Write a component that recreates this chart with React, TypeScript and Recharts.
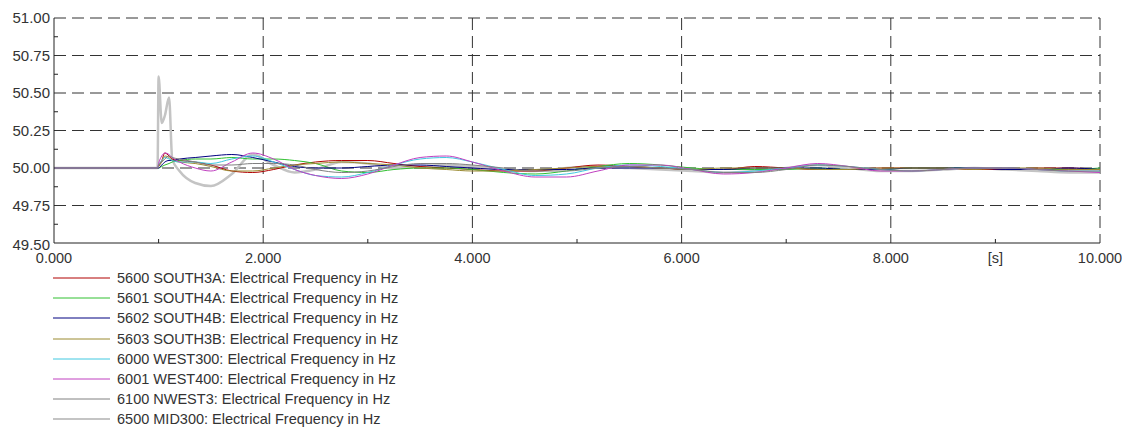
import React from "react";
import { LineChart, Line, XAxis, YAxis, CartesianGrid } from "recharts";

// Simulation time in seconds
const time = [
  0, 0.5, 0.99, 1.0, 1.03, 1.06, 1.1, 1.13, 1.2, 1.35, 1.5, 1.7, 1.9, 2.1, 2.3, 2.5, 2.75, 3.0, 3.25, 3.5,
  3.75, 4.0, 4.3, 4.6, 4.9, 5.2, 5.5, 5.8, 6.1, 6.4, 6.7, 7.0, 7.3, 7.6, 7.9, 8.2, 8.5, 8.8, 9.1, 9.4,
  9.7, 10.0,
];

// Bus frequencies in Hz
const south3a = [
  50, 50, 50, 50.01, 50.05, 50.1, 50.08, 50.06, 50.05, 50.04, 50.02, 49.98, 49.97, 49.99, 50.02, 50.04,
  50.05, 50.05, 50.03, 50.01, 50.0, 49.99, 49.98, 49.98, 50.0, 50.02, 50.01, 50.0, 49.99, 49.99, 50.01,
  50.0, 49.99, 49.99, 50.0, 50.0, 50.0, 49.99, 49.99, 50.0, 50.0, 49.99,
];
const south4a = [
  50, 50, 50, 50.0, 50.01, 50.02, 50.03, 50.04, 50.05, 50.06, 50.06, 50.07, 50.06, 50.06, 50.05, 50.03,
  49.98, 49.97, 49.99, 50.0, 50.0, 49.99, 49.97, 49.96, 49.98, 50.01, 50.03, 50.02, 50.0, 49.99, 49.99,
  49.99, 50.0, 49.99, 49.99, 50.0, 50.0, 50.0, 50.0, 49.99, 49.99, 50.0,
];
const south4b = [
  50, 50, 50, 50.0, 50.02, 50.04, 50.05, 50.05, 50.06, 50.07, 50.08, 50.09, 50.07, 50.04, 50.01, 50.0,
  50.0, 50.01, 50.02, 50.02, 50.01, 50.0, 49.99, 49.99, 49.99, 50.0, 50.0, 50.0, 49.99, 49.99, 50.0,
  50.0, 50.0, 49.99, 49.99, 50.0, 50.0, 50.0, 49.99, 49.99, 50.0, 49.99,
];
const south3b = [
  50, 50, 50, 50.01, 50.04, 50.08, 50.07, 50.05, 50.04, 50.03, 50.01, 49.98, 49.98, 50.0, 50.02, 50.03,
  50.04, 50.03, 50.02, 50.0, 49.99, 49.98, 49.98, 49.99, 50.0, 50.01, 50.01, 50.0, 49.99, 50.0, 50.0,
  50.0, 49.99, 49.99, 50.0, 50.0, 50.0, 49.99, 50.0, 50.0, 49.99, 49.99,
];
const west300 = [
  50, 50, 50, 50.02, 50.05, 50.07, 50.06, 50.05, 50.04, 50.04, 50.03, 50.06, 50.08, 50.04, 49.99, 49.95,
  49.94, 49.97, 50.02, 50.06, 50.07, 50.04, 49.99, 49.95, 49.96, 50.0, 50.02, 50.01, 49.99, 49.97, 49.98,
  50.0, 50.02, 50.01, 49.99, 49.98, 49.99, 50.0, 50.0, 49.99, 49.98, 49.98,
];
const west400 = [
  50, 50, 50, 50.03, 50.08, 50.1, 50.09, 50.07, 50.04, 50.0, 49.98, 50.04, 50.1, 50.06, 49.99, 49.95,
  49.93, 49.96, 50.02, 50.07, 50.08, 50.04, 49.98, 49.94, 49.94, 49.98, 50.02, 50.02, 49.99, 49.96, 49.97,
  50.0, 50.03, 50.01, 49.98, 49.98, 49.99, 50.0, 50.0, 49.99, 49.98, 49.97,
];
const nwest3 = [
  50, 50, 50, 50.02, 50.04, 50.06, 50.08, 50.07, 50.06, 50.04, 50.02, 50.02, 50.03, 50.03, 50.02, 49.99,
  49.97, 49.98, 50.01, 50.03, 50.03, 50.02, 50.0, 49.98, 49.98, 50.0, 50.01, 50.0, 49.99, 49.97, 49.97,
  49.99, 50.02, 50.01, 49.99, 49.98, 49.99, 50.0, 50.0, 49.99, 49.98, 49.98,
];
const mid300 = [
  50, 50, 50, 50.61, 50.3, 50.35, 50.47, 50.06, 49.98, 49.9, 49.88, 49.96, 50.09, 50.02, 49.97, 49.99,
  50.04, 50.03, 50.0, 50.01, 50.02, 50.01, 49.99, 49.98, 50.0, 50.01, 50.0, 49.99, 49.98, 49.97, 49.98,
  50.0, 50.02, 50.0, 49.98, 49.98, 49.99, 50.0, 49.99, 49.98, 49.97, 49.97,
];

const xTicks = [0, 1, 2, 3, 4, 5, 6, 7, 8, 9, 10];
const yTicks = [
  49.5, 49.625, 49.75, 49.875, 50, 50.125, 50.25, 50.375, 50.5, 50.625, 50.75, 50.875, 51,
];

const series = [
  { key: "s3a", name: "5600 SOUTH3A: Electrical Frequency in Hz", values: south3a, color: "#b00000", width: 1 },
  { key: "s4a", name: "5601 SOUTH4A: Electrical Frequency in Hz", values: south4a, color: "#30c030", width: 1 },
  { key: "s4b", name: "5602 SOUTH4B: Electrical Frequency in Hz", values: south4b, color: "#000080", width: 1 },
  { key: "s3b", name: "5603 SOUTH3B: Electrical Frequency in Hz", values: south3b, color: "#9a8a30", width: 1 },
  { key: "w300", name: "6000 WEST300: Electrical Frequency in Hz", values: west300, color: "#40c8e0", width: 1 },
  { key: "w400", name: "6001 WEST400: Electrical Frequency in Hz", values: west400, color: "#c040c0", width: 1 },
  { key: "nw3", name: "6100 NWEST3: Electrical Frequency in Hz", values: nwest3, color: "#808080", width: 1 },
  { key: "m300", name: "6500 MID300: Electrical Frequency in Hz", values: mid300, color: "#c4c4c4", width: 2.5 },
];

// the thick MID300 trace goes underneath the others
const drawOrder = [series[7], ...series.slice(0, 7)];

const rows = time.map((t, i) => {
  const row: Record<string, number> = { t };
  series.forEach((s) => (row[s.key] = s.values[i]));
  return row;
});

const FONT = "'Liberation Sans', Arial, sans-serif";

function XTick(props: any) {
  const { x, y, payload } = props;
  const v = payload.value;
  let label = "";
  if (v === 9) label = "[s]";
  else if (v % 2 === 0) label = v.toFixed(3);
  return (
    <g>
      {v % 2 === 1 && <line x1={x} x2={x} y1={y} y2={y - 4} stroke="#222" />}
      {label && (
        <text x={x} y={y + 20} textAnchor="middle" fontSize={14.5} fontFamily={FONT} fill="#333">
          {label}
        </text>
      )}
    </g>
  );
}

function YTick(props: any) {
  const { x, y, payload } = props;
  const v = payload.value;
  const major = Math.abs((v * 4) % 1) < 1e-6;
  // bottom label sits a little lower so it clears the axis corner
  const dy = v === 49.5 ? 7 : 5;
  return (
    <g>
      {!major && <line x1={x} x2={x + 4} y1={y} y2={y} stroke="#222" />}
      {major && (
        <text x={x - 4} y={y + dy} textAnchor="end" fontSize={15} fontFamily={FONT} fill="#333">
          {v.toFixed(2)}
        </text>
      )}
    </g>
  );
}

export default function App() {
  return (
    <div style={{ position: "absolute", left: 0, top: 0, width: 1122, height: 427, background: "#fff" }}>
      <LineChart
        width={1122}
        height={427}
        data={rows}
        margin={{ top: 18, right: 22, bottom: 183, left: 53 }}
      >
        <CartesianGrid
          stroke="#333"
          strokeDasharray="12 6"
          horizontalValues={[50.75, 50.5, 50.25, 50, 49.75, 51]}
          verticalValues={[2, 4, 6, 8, 10]}
        />
        <XAxis
          dataKey="t"
          type="number"
          domain={[0, 10]}
          ticks={xTicks}
          interval={0}
          height={1}
          tickSize={0}
          tickMargin={0}
          tickLine={false}
          axisLine={{ stroke: "#222" }}
          tick={XTick}
        />
        <YAxis
          type="number"
          domain={[49.5, 51]}
          ticks={yTicks}
          interval={0}
          width={1}
          tickSize={0}
          tickMargin={0}
          tickLine={false}
          axisLine={{ stroke: "#222" }}
          tick={YTick}
          allowDataOverflow
        />
        {drawOrder.map((s) => (
          <Line
            key={s.key}
            type="monotone"
            dataKey={s.key}
            stroke={s.color}
            strokeWidth={s.width}
            dot={false}
            isAnimationActive={false}
          />
        ))}
      </LineChart>
      <div style={{ position: "absolute", left: 53, top: 268, fontFamily: FONT, fontSize: 14.5, color: "#333" }}>
        {series.map((s) => (
          <div key={s.key} style={{ display: "flex", alignItems: "center", height: 20.2 }}>
            <svg width={57} height={4} style={{ marginRight: 7 }}>
              <line x1={0} x2={57} y1={2} y2={2} stroke={s.color} strokeWidth={s.key === "m300" ? 2 : 1} />
            </svg>
            <span>{s.name}</span>
          </div>
        ))}
      </div>
    </div>
  );
}
